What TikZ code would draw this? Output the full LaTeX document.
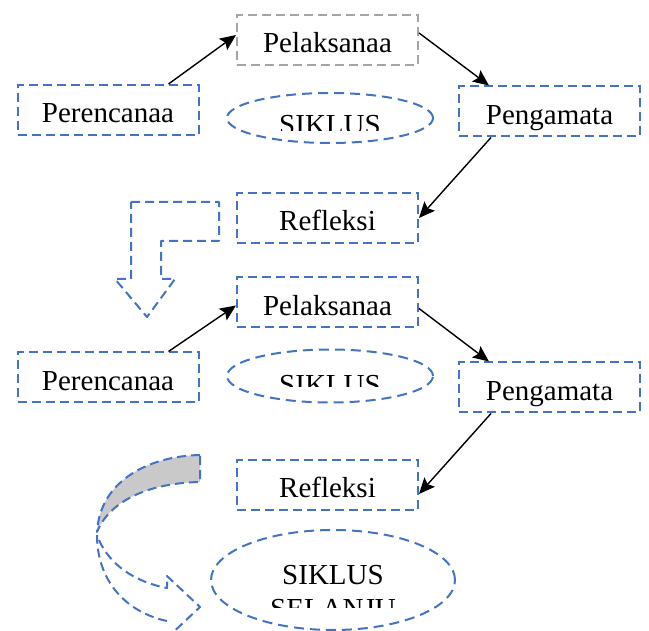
\documentclass[tikz,border=0pt]{standalone}
\usepackage{fontspec}
\setmainfont{Liberation Serif}
\usetikzlibrary{shapes.geometric, arrows.meta}
\definecolor{boxblue}{RGB}{68, 114, 196}
\definecolor{boxgray}{RGB}{165, 165, 165}
\definecolor{gray80}{RGB}{201, 201, 201}

\begin{document}
\begin{tikzpicture}[x=1pt, y=-1pt,
  stage/.style={draw=boxblue, dash pattern=on 9pt off 5pt, line width=2pt,
    minimum width=181pt, minimum height=50pt, inner sep=0pt,
    text height=26pt, text depth=0pt, font=\fontsize{29}{34}\selectfont},
  cycle/.style={ellipse, draw=boxblue, dash pattern=on 10pt off 6pt, line width=2pt, inner sep=0pt},
  label/.style={anchor=base, inner sep=0pt, font=\fontsize{29}{34}\selectfont},
  flow/.style={-{Stealth[length=16pt, width=14pt, inset=3pt]}, line width=1.4pt},
  outline/.style={draw=boxblue, dash pattern=on 9pt off 5pt, line width=2pt, line join=round}]

  \clip (0, 0) rectangle (649, 631);

  % first cycle
  \node[stage, draw=boxgray] (act1) at (327.5, 40) {Pelaksanaa};
  \node[stage] (plan1) at (108, 110) {Perencanaa};
  \node[stage] (obs1) at (549.5, 111.5) {Pengamata};
  \node[stage] (refl1) at (327.5, 218) {Refleksi};
  \node[cycle, minimum width=206pt, minimum height=50pt] (cyc1) at (330, 118) {};
  \begin{scope}
    \clip (220, 100) rectangle (440, 131);
    \node[label] (cyc1text) at (330, 135) {SIKLUS};
  \end{scope}

  \draw[flow] ([xshift=-31pt]plan1.north east) -- ([yshift=5pt]act1.west);
  \draw[flow] ([yshift=7pt]act1.east) -- ([xshift=31pt]obs1.north west);
  \draw[flow] ([xshift=33pt]obs1.south west) -- (refl1.east);

  % bent arrow to the second cycle
  \draw[outline] (131, 202) -- (219, 202) -- (219, 241) -- (161, 241) -- (161, 279)
    -- (175, 279) -- (147, 317) -- (115, 279) -- (131, 279) -- cycle;

  % second cycle
  \node[stage] (act2) at (327.5, 302.5) {Pelaksanaa};
  \node[stage] (plan2) at (108, 377.5) {Perencanaa};
  \node[stage] (obs2) at (549.5, 387.5) {Pengamata};
  \node[stage] (refl2) at (327.5, 485) {Refleksi};
  \node[cycle, minimum width=206pt, minimum height=53pt] (cyc2) at (330, 376) {};
  \begin{scope}
    \clip (220, 360) rectangle (440, 387);
    \node[label] (cyc2text) at (330, 395) {SIKLUS};
  \end{scope}

  \draw[flow] ([xshift=-31pt]plan2.north east) -- ([yshift=-3pt]act2.west);
  \draw[flow] ([yshift=-6pt]act2.east) -- ([xshift=31pt]obs2.north west);
  \draw[flow] ([xshift=33pt]obs2.south west) -- ([yshift=-9pt]refl2.east);

  % curved arrow to the next cycle
  \filldraw[fill=gray80, outline] (200, 455) .. controls (150, 456) and (100, 480) .. (97, 532)
    .. controls (110, 500) and (150, 483) .. (200, 482) -- cycle;
  \draw[outline] (99, 540) .. controls (110, 565) and (135, 582) .. (167, 588)
    -- (167, 576) -- (200, 607) -- (167, 638);
  \draw[outline] (167, 621) .. controls (125, 612) and (97, 580) .. (97, 535);

  \node[cycle, minimum width=244pt, minimum height=100pt] (cyc3) at (333, 580) {};
  \begin{scope}
    \clip (215, 540) rectangle (450, 607);
    \node[label, align=center] (cyc3text) at (333, 618) {SIKLUS\\SELANJU};
  \end{scope}

\end{tikzpicture}
\end{document}
